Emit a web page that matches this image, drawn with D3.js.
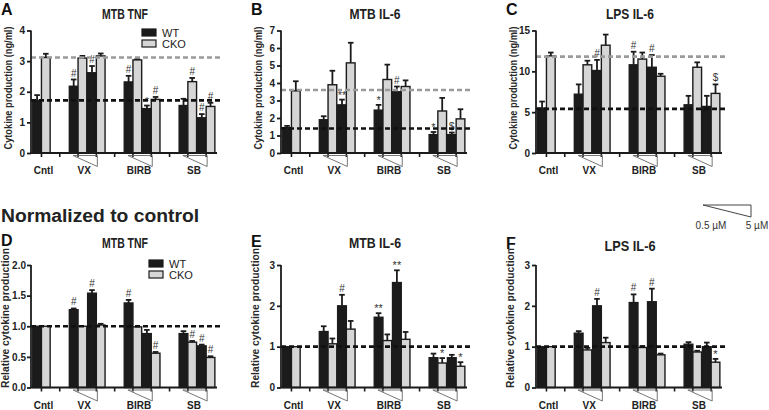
<!DOCTYPE html>
<html><head><meta charset="utf-8">
<script src="https://cdn.jsdelivr.net/npm/d3@7/dist/d3.min.js"></script>
<style>
body{margin:0;background:#fff}
svg{display:block}
text{font-family:"Liberation Sans",Arial,Helvetica,sans-serif}
</style></head>
<body>
<svg id="chart" width="769" height="410"></svg>
<script>
// ---------- data ----------
const conditions = ["Cntl","VX 0.5","VX 5","BIRB 0.5","BIRB 5","SB 0.5","SB 5"];
const slots = ["Cntl","g1","VX 0.5","VX 5","g2","BIRB 0.5","BIRB 5","g3","SB 0.5","SB 5"];
const groups = ["Cntl","VX","BIRB","SB"];
const series = ["WT","CKO"];

// A: MTB TNF (ng/ml)
const aWT = [1.72,2.18,2.62,2.32,1.45,1.55,1.15];
const aWTErr = [0.17,0.22,0.22,0.20,0.10,0.22,0.12];
const aCKO = [3.12,3.10,3.17,3.04,1.75,2.33,1.52];
const aCKOErr = [0.12,0.07,0.08,0.03,0.08,0.12,0.12];
const aWTMarks = ["","#","#","#","*","","#"];
const aCKOMarks = ["","","","","#","#","#"];
const aTicks = [0,1,2,3,4];
const aRef = [1.72,3.12];

// B: MTB IL-6 (ng/ml)
const bWT = [1.45,1.90,2.75,2.45,3.50,1.05,1.05];
const bWTErr = [0.10,0.20,0.30,0.30,0.30,0.15,0.12];
const bCKO = [3.55,3.90,5.15,4.20,3.80,2.40,1.95];
const bCKOErr = [0.55,0.80,1.15,0.85,0.35,0.75,0.55];
const bWTMarks = ["","","**","*","#","*","$"];
const bCKOMarks = ["","","","","","",""];
const bTicks = [0,1,2,3,4,5,6,7];
const bRef = [1.4,3.6];

// C: LPS IL-6 (ng/ml)
const cWT = [5.5,7.2,10.1,10.8,10.5,5.9,5.7];
const cWTErr = [0.8,1.2,1.3,1.6,1.5,1.1,1.3];
const cCKO = [11.9,10.8,13.2,11.5,9.4,10.5,7.3];
const cCKOErr = [0.4,0.5,1.3,0.8,0.3,0.6,1.1];
const cWTMarks = ["","","#","#","#","",""];
const cCKOMarks = ["","","","","","","$"];
const cTicks = [0,5,10,15];
const cRef = [5.4,11.8];

// D: MTB TNF normalized
const dWT = [1,1.27,1.54,1.38,0.88,0.88,0.68];
const dWTErr = [0,0.02,0.05,0.05,0.06,0.04,0.02];
const dCKO = [1,1.00,1.02,0.99,0.56,0.74,0.49];
const dCKOErr = [0,0,0.02,0,0.02,0.02,0.02];
const dWTMarks = ["","#","#","#","","","#"];
const dCKOMarks = ["","","","","#","#","#"];
const dTicks = [0,0.5,1.0,1.5,2.0];

// E: MTB IL-6 normalized
const eWT = [1,1.37,2.00,1.72,2.57,0.73,0.73];
const eWTErr = [0,0.13,0.27,0.10,0.30,0.10,0.07];
const eCKO = [1,1.07,1.43,1.15,1.18,0.60,0.52];
const eCKOErr = [0,0.13,0.20,0.15,0.18,0.12,0.10];
const eWTMarks = ["","","#","**","**","",""];
const eCKOMarks = ["","","","","","*","*"];
const eTicks = [0,1,2,3];

// F: LPS IL-6 normalized
const fWT = [1,1.33,2.00,2.08,2.10,1.06,1.00];
const fWTErr = [0,0.05,0.17,0.20,0.32,0.05,0.10];
const fCKO = [1,0.92,1.10,0.98,0.80,0.87,0.62];
const fCKOErr = [0,0.05,0.12,0.03,0.03,0.03,0.08];
const fWTMarks = ["","","#","#","#","",""];
const fCKOMarks = ["","","","","","","*"];
const fTicks = [0,1,2,3];
const normRef = [1.0];

const titles = ["MTB TNF","MTB IL-6","LPS IL-6","MTB TNF","MTB IL-6","LPS IL-6"];
const letters = ["A","B","C","D","E","F"];
const yTitles = ["Cytokine production (ng/ml)","Relative cytokine production"];
const concLabels = ["0.5 \u00b5M","5 \u00b5M"];
const heading = "Normalized to control";

// ---------- layout ----------
const svg = d3.select("#chart");
const panels = [
  {x0:31, top:30.5, bot:153, wt:aWT, wte:aWTErr, cko:aCKO, ckoe:aCKOErr, wm:aWTMarks, cm:aCKOMarks, ticks:aTicks, refB:aRef[0], refG:aRef[1], fmt:d3.format("d"), legend:[142,29], titleW:46, titleY:19, letterY:15, row:0},
  {x0:281, top:30.5, bot:153, wt:bWT, wte:bWTErr, cko:bCKO, ckoe:bCKOErr, wm:bWTMarks, cm:bCKOMarks, ticks:bTicks, refB:bRef[0], refG:bRef[1], fmt:d3.format("d"), titleW:51, titleY:19, letterY:15, row:0},
  {x0:536, top:30.5, bot:153, wt:cWT, wte:cWTErr, cko:cCKO, ckoe:cCKOErr, wm:cWTMarks, cm:cCKOMarks, ticks:cTicks, refB:cRef[0], refG:cRef[1], fmt:d3.format("d"), titleW:48, titleY:19, letterY:15, row:0},
  {x0:31, top:265, bot:387.5, wt:dWT, wte:dWTErr, cko:dCKO, ckoe:dCKOErr, wm:dWTMarks, cm:dCKOMarks, ticks:dTicks, refB:normRef[0], refG:null, fmt:d3.format(".1f"), legend:[149,260], titleW:46, titleY:248, letterY:246, row:1},
  {x0:281, top:265, bot:387.5, wt:eWT, wte:eWTErr, cko:eCKO, ckoe:eCKOErr, wm:eWTMarks, cm:eCKOMarks, ticks:eTicks, refB:normRef[0], refG:null, fmt:d3.format("d"), titleW:52, titleY:248, letterY:247, row:1},
  {x0:536, top:265, bot:387.5, wt:fWT, wte:fWTErr, cko:fCKO, ckoe:fCKOErr, wm:fWTMarks, cm:fCKOMarks, ticks:fTicks, refB:normRef[0], refG:null, fmt:d3.format("d"), titleW:51, titleY:251, letterY:249, row:1}
];

const BLACK = "#1b1b1b", GRAY = "#d6d6d6";

panels.forEach((p, pi) => {
  const g = svg.append("g");
  const xs = d3.scaleBand().domain(slots).range([p.x0 + 1.3, p.x0 + 184.3]).padding(0);
  const xi = d3.scaleBand().domain(series).range([0, xs.bandwidth()]).paddingOuter(0.05).paddingInner(0);
  const ymax = p.ticks[p.ticks.length - 1];
  const y = d3.scaleLinear().domain([0, ymax]).range([p.bot, p.top]);
  const bw = xi.bandwidth();

  const rows = [];
  conditions.forEach((c, i) => {
    rows.push({slot:c, s:"WT", v:p.wt[i], e:p.wte[i], m:p.wm[i]});
    rows.push({slot:c, s:"CKO", v:p.cko[i], e:p.ckoe[i], m:p.cm[i]});
  });

  // bars
  g.selectAll("rect.bar").data(rows).join("rect")
    .attr("x", d => xs(d.slot) + xi(d.s))
    .attr("y", d => y(d.v))
    .attr("width", bw)
    .attr("height", d => y(0) - y(d.v))
    .attr("fill", d => d.s === "WT" ? BLACK : GRAY)
    .attr("stroke", BLACK).attr("stroke-width", 1.4);

  // error bars
  const eb = rows.filter(d => d.e > 0);
  g.selectAll("line.err").data(eb).join("line")
    .attr("x1", d => xs(d.slot) + xi(d.s) + bw/2).attr("x2", d => xs(d.slot) + xi(d.s) + bw/2)
    .attr("y1", d => y(d.v)).attr("y2", d => y(d.v + d.e))
    .attr("stroke", BLACK).attr("stroke-width", 1.8);
  g.selectAll("line.cap").data(eb).join("line")
    .attr("x1", d => xs(d.slot) + xi(d.s) + bw/2 - 2.8).attr("x2", d => xs(d.slot) + xi(d.s) + bw/2 + 2.8)
    .attr("y1", d => y(d.v + d.e)).attr("y2", d => y(d.v + d.e))
    .attr("stroke", BLACK).attr("stroke-width", 1.8);

  // significance marks
  g.selectAll("text.mark").data(rows.filter(d => d.m)).join("text")
    .attr("x", d => xs(d.slot) + xi(d.s) + bw/2)
    .attr("y", d => y(d.v + d.e) - (d.m === "#" || d.m === "$" ? 3 : 1))
    .attr("text-anchor", "middle")
    .attr("font-size", d => d.m === "#" || d.m === "$" ? 10 : 11)
    .attr("fill", "#333")
    .text(d => d.m);

  // reference dashed lines
  const x1 = p.x0, x2 = p.x0 + 190;
  if (p.refG !== null) {
    g.append("line").attr("x1", x1).attr("x2", x2).attr("y1", y(p.refG)).attr("y2", y(p.refG))
      .attr("stroke", "#9a9a9a").attr("stroke-width", 2.6).attr("stroke-dasharray", "5,3");
  }
  g.append("line").attr("x1", x1).attr("x2", x2).attr("y1", y(p.refB)).attr("y2", y(p.refB))
    .attr("stroke", "#111").attr("stroke-width", 2.6).attr("stroke-dasharray", "5,3");

  // y axis
  const ya = g.append("g").attr("transform", `translate(${p.x0},0)`)
    .call(d3.axisLeft(y).tickValues(p.ticks).tickFormat(p.fmt).tickSize(4).tickPadding(p.row === 1 && pi === 3 ? 1 : 2));
  ya.select(".domain").attr("stroke", BLACK).attr("stroke-width", 1.8).attr("d", `M0,${p.top}V${p.bot}`);
  ya.selectAll(".tick line").attr("stroke", BLACK).attr("stroke-width", 1.8);
  ya.selectAll(".tick text").attr("font-size", 10).attr("font-weight", "bold").attr("fill", "#222")
    .attr("font-family", "Liberation Sans, Arial, sans-serif");

  // x axis
  const xa = g.append("g").attr("transform", `translate(0,${p.bot})`)
    .call(d3.axisBottom(xs).tickSize(4).tickFormat(""));
  xa.select(".domain").attr("stroke", BLACK).attr("stroke-width", 1.8).attr("d", `M${p.x0},0H${p.x0 + 186}`);
  xa.selectAll(".tick line").attr("stroke", BLACK).attr("stroke-width", 1.6);

  // group labels and wedges
  const cx = s => xs(s) + xs.bandwidth()/2;
  const glab = [
    {t:groups[0], x:cx("Cntl") + 2},
    {t:groups[1], x:(cx("VX 0.5") + cx("VX 5"))/2 - 3, w:["VX 0.5","VX 5"]},
    {t:groups[2], x:(cx("BIRB 0.5") + cx("BIRB 5"))/2 - 3, w:["BIRB 0.5","BIRB 5"]},
    {t:groups[3], x:(cx("SB 0.5") + cx("SB 5"))/2 - 3, w:["SB 0.5","SB 5"]}
  ];
  g.selectAll("text.grp").data(glab).join("text")
    .attr("x", d => d.x).attr("y", p.bot + 21)
    .attr("text-anchor", "middle").attr("font-size", 10).attr("font-weight", "bold").attr("fill", "#222")
    .text(d => d.t);
  g.selectAll("path.wedge").data(glab.filter(d => d.w)).join("path")
    .attr("d", d => {
      const a = cx(d.w[0]) - 5, b = cx(d.w[1]) + 1, t = p.bot + 2.5, bt = p.bot + 13.5;
      return `M${a},${t}L${b},${t}L${b},${bt}Z`;
    })
    .attr("fill", "none").attr("stroke", "#666").attr("stroke-width", 0.9);

  // title
  g.append("text").attr("x", p.x0 + 94).attr("y", p.titleY).attr("text-anchor", "middle")
    .attr("font-size", 15).attr("font-weight", "bold").attr("fill", "#222")
    .attr("textLength", p.titleW).attr("lengthAdjust", "spacingAndGlyphs")
    .text(titles[pi]);

  // panel letter
  g.append("text").attr("x", p.x0 - 30).attr("y", p.letterY)
    .attr("font-size", 16).attr("font-weight", "bold").attr("fill", "#111")
    .text(letters[pi]);

  // y axis title
  const yc = p.row === 0 ? 88 : 318;
  const ylen = p.row === 0 ? 123 : 140;
  g.append("text").attr("transform", `translate(${p.x0 - (p.row === 0 ? 23 : 26)},${yc}) rotate(-90)`)
    .attr("text-anchor", "middle").attr("dy", "0.35em")
    .attr("font-size", 10).attr("font-weight", "bold").attr("fill", "#2a2a2a")
    .attr("textLength", ylen).attr("lengthAdjust", "spacingAndGlyphs")
    .text(yTitles[p.row]);

  // legend
  if (p.legend) {
    const [lx, ly] = p.legend;
    series.forEach((s, k) => {
      g.append("rect").attr("x", lx).attr("y", ly + k*11).attr("width", 14).attr("height", 7)
        .attr("fill", s === "WT" ? BLACK : GRAY).attr("stroke", BLACK).attr("stroke-width", 1.2);
      g.append("text").attr("x", lx + 20).attr("y", ly + k*11 + 7.5)
        .attr("font-size", 11).attr("fill", "#222").text(s);
    });
  }
});

// heading
svg.append("text").attr("x", 1).attr("y", 222)
  .attr("font-size", 18).attr("font-weight", "bold").attr("fill", "#222")
  .attr("textLength", 198).attr("lengthAdjust", "spacingAndGlyphs")
  .text(heading);

// concentration wedge legend
svg.append("path").attr("d", "M703,205L751,205L751,217Z")
  .attr("fill", "none").attr("stroke", "#444").attr("stroke-width", 1);
svg.append("text").attr("x", 711).attr("y", 229).attr("text-anchor", "middle")
  .attr("font-size", 10).attr("fill", "#333").text(concLabels[0]);
svg.append("text").attr("x", 757).attr("y", 229).attr("text-anchor", "middle")
  .attr("font-size", 10).attr("fill", "#333").text(concLabels[1]);
</script>
</body></html>
